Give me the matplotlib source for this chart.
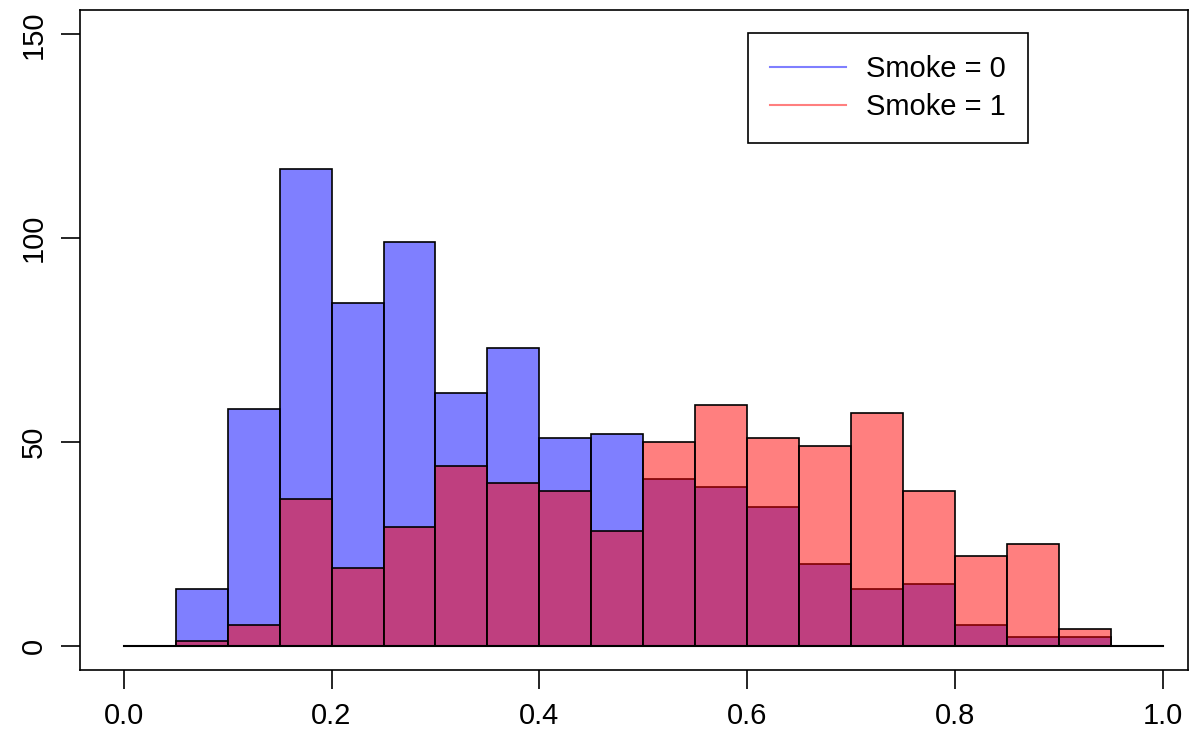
import numpy as np
import matplotlib.pyplot as plt

plt.rcParams['font.family'] = ['Liberation Sans', 'DejaVu Sans']

edges = np.round(np.arange(0.05, 0.951, 0.05), 2)
smoke0 = [14, 58, 117, 84, 99, 62, 73, 51, 52, 41, 39, 34, 20, 14, 15, 5, 2, 2]
smoke1 = [1, 5, 36, 19, 29, 44, 40, 38, 28, 50, 59, 51, 49, 57, 38, 22, 25, 4]

fig = plt.figure(figsize=(12.01, 7.46), dpi=100)
ax = fig.add_axes([80 / 1201, 76 / 746, 1108 / 1201, 660 / 746])

ax.bar(edges[:-1], smoke0, width=0.05, align='edge', color=(0, 0, 1, 0.5),
       edgecolor='black', linewidth=1.2)
ax.bar(edges[:-1], smoke1, width=0.05, align='edge', color=(1, 0, 0, 0.5),
       edgecolor='black', linewidth=1.2)
ax.plot([0, 1], [0, 0], color='black', linewidth=1.5)

ax.set_xlim(-0.042, 1.024)
ax.set_ylim(-6, 156)
ax.set_xticks(np.arange(0, 1.01, 0.2))
ax.set_xticklabels([f"{v:.1f}" for v in np.arange(0, 1.01, 0.2)])
ax.set_yticks([0, 50, 100, 150])
ax.set_yticklabels(['0', '50', '100', '150'], rotation=90, va='center')
ax.tick_params(length=14, width=1.2, labelsize=21, pad=9)
for s in ax.spines.values():
    s.set_linewidth(1.2)

ax.plot([], [], color=(0, 0, 1, 0.5), label='Smoke = 0')
ax.plot([], [], color=(1, 0, 0, 0.5), label='Smoke = 1')
leg = ax.legend(loc='upper left', bbox_to_anchor=((748 - 80) / 1108, 1 - 23 / 660),
                fontsize=21, fancybox=False, edgecolor='black', framealpha=1,
                handlelength=2.6, handletextpad=0.7, borderpad=0.75, labelspacing=0.35,
                borderaxespad=0)
leg.get_frame().set_linewidth(1.2)

fig.savefig('out.png', dpi=100)
